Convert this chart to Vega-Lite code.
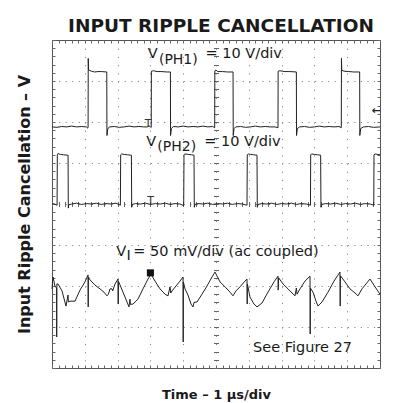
{
  "$schema": "https://vega.github.io/schema/vega-lite/v6.json",
  "width": 328,
  "height": 328,
  "autosize": {"type": "none"},
  "padding": {"left": 52, "top": 40, "right": 29, "bottom": 35},
  "background": "white",
  "title": {"text": "INPUT RIPPLE CANCELLATION", "font": "DejaVu Sans", "fontSize": 18.5, "fontWeight": "bold", "color": "#1a1a1a", "anchor": "middle", "frame": "group", "baseline": "alphabetic", "offset": -11, "dx": 5},
  "config": {
    "view": {"stroke": "#555", "strokeWidth": 1},
    "axis": {"titleFont": "DejaVu Sans", "titleFontWeight": "bold", "titleColor": "#1a1a1a"},
    "text": {"font": "DejaVu Sans", "fontSize": 14.5, "align": "left", "baseline": "alphabetic", "color": "#1a1a1a"}
  },
  "resolve": {"axis": {"x": "independent", "y": "independent"}},
  "data": {"values": [{}]},
  "datasets": {
    "ph1": [
      {"t":0,"v":5.88},{"t":0.15,"v":5.87},{"t":0.3,"v":5.89},{"t":0.45,"v":5.88},{"t":0.6,"v":5.9},{"t":0.75,"v":5.88},{"t":0.9,"v":5.89},{"t":1.05,"v":5.88},{"t":1.09,"v":5.85},{"t":1.1,"v":5.88},
      {"t":1.105,"v":7.55},{"t":1.115,"v":7.27},{"t":1.2,"v":7.24},{"t":1.3,"v":7.22},{"t":1.4,"v":7.23},{"t":1.5,"v":7.23},{"t":1.67,"v":7.22},
      {"t":1.675,"v":5.67},{"t":1.7,"v":5.83},{"t":1.75,"v":5.88},{"t":1.9,"v":5.89},{"t":2.05,"v":5.87},{"t":2.2,"v":5.88},{"t":2.35,"v":5.9},{"t":2.5,"v":5.88},{"t":2.65,"v":5.89},{"t":2.8,"v":5.88},{"t":2.92,"v":5.88},{"t":2.95,"v":5.91},{"t":3.0,"v":5.88},{"t":3.025,"v":5.87},
      {"t":3.03,"v":7.24},{"t":3.1,"v":7.25},{"t":3.2,"v":7.23},{"t":3.35,"v":7.23},{"t":3.5,"v":7.22},{"t":3.61,"v":7.22},
      {"t":3.615,"v":5.67},{"t":3.64,"v":5.84},{"t":3.7,"v":5.89},{"t":3.85,"v":5.88},{"t":4.0,"v":5.9},{"t":4.15,"v":5.88},{"t":4.3,"v":5.89},{"t":4.45,"v":5.88},{"t":4.6,"v":5.9},{"t":4.75,"v":5.88},{"t":4.9,"v":5.89},{"t":4.96,"v":5.86},
      {"t":4.965,"v":7.25},{"t":5.0,"v":7.27},{"t":5.05,"v":7.23},{"t":5.2,"v":7.23},{"t":5.35,"v":7.22},{"t":5.52,"v":7.22},
      {"t":5.525,"v":5.67},{"t":5.55,"v":5.84},{"t":5.6,"v":5.88},{"t":5.75,"v":5.89},{"t":5.9,"v":5.87},{"t":6.05,"v":5.88},{"t":6.2,"v":5.9},{"t":6.35,"v":5.88},{"t":6.5,"v":5.89},{"t":6.65,"v":5.88},{"t":6.8,"v":5.88},{"t":6.89,"v":5.86},
      {"t":6.895,"v":7.24},{"t":6.95,"v":7.25},{"t":7.1,"v":7.23},{"t":7.25,"v":7.23},{"t":7.45,"v":7.22},
      {"t":7.455,"v":5.67},{"t":7.48,"v":5.84},{"t":7.55,"v":5.88},{"t":7.7,"v":5.89},{"t":7.85,"v":5.87},{"t":8.0,"v":5.88},{"t":8.15,"v":5.9},{"t":8.3,"v":5.88},{"t":8.45,"v":5.89},{"t":8.6,"v":5.88},{"t":8.75,"v":5.89},{"t":8.82,"v":5.86},
      {"t":8.825,"v":7.55},{"t":8.835,"v":7.26},{"t":8.9,"v":7.24},{"t":9.05,"v":7.23},{"t":9.2,"v":7.22},{"t":9.38,"v":7.22},
      {"t":9.385,"v":5.67},{"t":9.41,"v":5.84},{"t":9.5,"v":5.88},{"t":9.65,"v":5.89},{"t":9.8,"v":5.87},{"t":10.0,"v":5.88}
    ],
    "ph2": [
      {"t":0,"v":4.0},{"t":0.05,"v":4.01},{"t":0.155,"v":3.97},
      {"t":0.162,"v":5.2},{"t":0.18,"v":5.23},{"t":0.25,"v":5.21},{"t":0.35,"v":5.2},{"t":0.49,"v":5.19},
      {"t":0.497,"v":3.9},{"t":0.51,"v":3.98},{"t":0.6,"v":4.0},{"t":0.75,"v":4.02},{"t":0.9,"v":3.99},{"t":1.05,"v":4.01},{"t":1.2,"v":4.0},{"t":1.35,"v":4.02},{"t":1.5,"v":3.99},{"t":1.65,"v":4.01},{"t":1.8,"v":4.0},{"t":1.95,"v":4.02},{"t":2.085,"v":3.97},
      {"t":2.094,"v":5.2},{"t":2.12,"v":5.22},{"t":2.2,"v":5.21},{"t":2.3,"v":5.2},{"t":2.42,"v":5.19},
      {"t":2.43,"v":3.92},{"t":2.45,"v":3.99},{"t":2.55,"v":4.01},{"t":2.7,"v":4.0},{"t":2.85,"v":4.02},{"t":3.0,"v":3.99},{"t":3.15,"v":4.01},{"t":3.3,"v":4.0},{"t":3.45,"v":4.02},{"t":3.6,"v":3.99},{"t":3.75,"v":4.01},{"t":3.9,"v":4.0},{"t":4.015,"v":3.96},
      {"t":4.024,"v":5.2},{"t":4.05,"v":5.22},{"t":4.15,"v":5.21},{"t":4.25,"v":5.2},{"t":4.33,"v":5.19},
      {"t":4.338,"v":3.92},{"t":4.36,"v":3.99},{"t":4.45,"v":4.01},{"t":4.6,"v":4.0},{"t":4.75,"v":4.02},{"t":4.9,"v":3.99},{"t":5.05,"v":4.01},{"t":5.2,"v":4.0},{"t":5.35,"v":4.02},{"t":5.5,"v":3.99},{"t":5.65,"v":4.01},{"t":5.8,"v":4.0},{"t":5.945,"v":3.97},
      {"t":5.954,"v":5.2},{"t":5.98,"v":5.22},{"t":6.05,"v":5.21},{"t":6.15,"v":5.2},{"t":6.25,"v":5.19},
      {"t":6.259,"v":3.92},{"t":6.28,"v":3.99},{"t":6.4,"v":4.01},{"t":6.55,"v":4.0},{"t":6.7,"v":4.02},{"t":6.85,"v":3.99},{"t":7.0,"v":4.01},{"t":7.15,"v":4.0},{"t":7.3,"v":4.02},{"t":7.45,"v":3.99},{"t":7.6,"v":4.01},{"t":7.75,"v":4.0},{"t":7.88,"v":3.97},
      {"t":7.887,"v":5.2},{"t":7.91,"v":5.22},{"t":8.0,"v":5.21},{"t":8.1,"v":5.2},{"t":8.19,"v":5.19},
      {"t":8.2,"v":3.92},{"t":8.22,"v":3.99},{"t":8.35,"v":4.01},{"t":8.5,"v":4.0},{"t":8.65,"v":4.02},{"t":8.8,"v":3.99},{"t":8.95,"v":4.01},{"t":9.1,"v":4.0},{"t":9.25,"v":4.02},{"t":9.4,"v":3.99},{"t":9.55,"v":4.01},{"t":9.7,"v":4.0},{"t":9.81,"v":3.97},
      {"t":9.817,"v":5.2},{"t":9.85,"v":5.22},{"t":10.0,"v":5.2}
    ],
    "ripple": [
      {"t":0,"v":1.93},{"t":0.03,"v":2.22},{"t":0.09,"v":2.0},{"t":0.14,"v":1.95},{"t":0.143,"v":0.756},{"t":0.149,"v":2.05},{"t":0.183,"v":2.05},{"t":0.305,"v":1.88},{"t":0.427,"v":1.51},{"t":0.488,"v":1.78},{"t":0.5,"v":1.61},{"t":0.549,"v":1.63},{"t":0.701,"v":1.63},{"t":0.854,"v":1.9},{"t":1.006,"v":2.1},{"t":1.098,"v":2.27},{"t":1.104,"v":1.49},{"t":1.11,"v":2.22},{"t":1.159,"v":2.15},{"t":1.311,"v":2.02},{"t":1.463,"v":1.93},{"t":1.585,"v":1.85},{"t":1.677,"v":1.76},{"t":1.72,"v":1.8},{"t":1.768,"v":1.93},{"t":1.829,"v":1.93},{"t":1.85,"v":1.88},{"t":1.921,"v":2.05},{"t":2.012,"v":2.17},{"t":2.018,"v":1.56},{"t":2.025,"v":2.12},{"t":2.226,"v":1.73},{"t":2.348,"v":1.49},{"t":2.378,"v":1.68},{"t":2.39,"v":1.55},{"t":2.47,"v":1.56},{"t":2.622,"v":1.68},{"t":2.774,"v":1.93},{"t":2.927,"v":2.17},{"t":3.018,"v":2.29},{"t":3.14,"v":2.12},{"t":3.293,"v":1.93},{"t":3.445,"v":1.8},{"t":3.537,"v":1.76},{"t":3.598,"v":1.98},{"t":3.62,"v":1.83},{"t":3.659,"v":1.88},{"t":3.78,"v":2.0},{"t":3.902,"v":2.12},{"t":3.994,"v":2.22},{"t":4.0,"v":0.634},{"t":4.006,"v":2.1},{"t":4.055,"v":1.93},{"t":4.146,"v":1.78},{"t":4.238,"v":1.56},{"t":4.299,"v":1.49},{"t":4.33,"v":1.6},{"t":4.421,"v":1.61},{"t":4.573,"v":1.8},{"t":4.726,"v":2.0},{"t":4.878,"v":2.22},{"t":4.97,"v":2.34},{"t":5.122,"v":2.1},{"t":5.274,"v":1.98},{"t":5.427,"v":1.85},{"t":5.518,"v":1.76},{"t":5.61,"v":1.88},{"t":5.732,"v":1.98},{"t":5.884,"v":2.12},{"t":5.945,"v":2.17},{"t":5.951,"v":1.56},{"t":5.957,"v":2.05},{"t":6.037,"v":1.73},{"t":6.159,"v":1.56},{"t":6.25,"v":1.49},{"t":6.402,"v":1.585},{"t":6.585,"v":1.85},{"t":6.768,"v":2.1},{"t":6.89,"v":2.24},{"t":6.896,"v":1.9},{"t":6.91,"v":2.2},{"t":7.043,"v":2.05},{"t":7.195,"v":1.93},{"t":7.317,"v":1.83},{"t":7.409,"v":1.76},{"t":7.45,"v":1.95},{"t":7.47,"v":1.8},{"t":7.561,"v":1.93},{"t":7.713,"v":2.12},{"t":7.866,"v":2.24},{"t":7.872,"v":0.83},{"t":7.878,"v":1.95},{"t":7.957,"v":1.85},{"t":8.049,"v":1.63},{"t":8.11,"v":1.51},{"t":8.232,"v":1.61},{"t":8.415,"v":1.85},{"t":8.598,"v":2.12},{"t":8.78,"v":2.34},{"t":8.787,"v":1.51},{"t":8.793,"v":2.25},{"t":8.933,"v":2.1},{"t":9.085,"v":1.93},{"t":9.238,"v":1.83},{"t":9.329,"v":1.76},{"t":9.451,"v":1.93},{"t":9.573,"v":2.05},{"t":9.695,"v":2.17},{"t":9.848,"v":1.98},{"t":10.0,"v":1.8}
    ]
  },
  "layer": [
    {
      "data": {"name": "ph1"},
      "mark": {"type": "line", "color": "#222", "strokeWidth": 1},
      "encoding": {
        "x": {"field": "t", "type": "quantitative", "scale": {"domain": [0, 10], "nice": false, "zero": false},
              "axis": {"orient": "bottom", "values": [1,2,3,4,5,6,7,8,9], "grid": true, "gridColor": "#8a8a8a", "gridDash": [1.2, 7.0], "gridWidth": 1, "ticks": false, "labels": false, "domain": false, "title": "Time – 1 µs/div", "titleFontSize": 13, "titlePadding": 20}},
        "y": {"field": "v", "type": "quantitative", "scale": {"domain": [0, 8], "nice": false, "zero": false},
              "axis": {"orient": "left", "values": [1,2,3,4,5,6,7], "grid": true, "gridColor": "#8a8a8a", "gridDash": [1.2, 5.36], "gridWidth": 1, "ticks": false, "labels": false, "domain": false, "title": "Input Ripple Cancellation – V", "titleFontSize": 16, "titlePadding": 20}}
      }
    },
    {
      "data": {"name": "ph2"},
      "mark": {"type": "line", "color": "#222", "strokeWidth": 1},
      "encoding": {
        "x": {"field": "t", "type": "quantitative", "scale": {"domain": [0, 10], "nice": false, "zero": false},
              "axis": {"orient": "bottom", "tickCount": 50, "tickSize": -3, "tickColor": "#666", "labels": false, "domain": false, "grid": false, "title": null}},
        "y": {"field": "v", "type": "quantitative", "scale": {"domain": [0, 8], "nice": false, "zero": false},
              "axis": {"orient": "left", "tickCount": 40, "tickSize": -3, "tickColor": "#666", "labels": false, "domain": false, "grid": false, "title": null}}
      }
    },
    {
      "data": {"name": "ripple"},
      "mark": {"type": "line", "color": "#222", "strokeWidth": 1},
      "encoding": {
        "x": {"field": "t", "type": "quantitative", "scale": {"domain": [0, 10], "nice": false, "zero": false},
              "axis": {"orient": "top", "tickCount": 50, "tickSize": -3, "tickColor": "#666", "labels": false, "domain": false, "grid": false, "title": null}},
        "y": {"field": "v", "type": "quantitative", "scale": {"domain": [0, 8], "nice": false, "zero": false},
              "axis": {"orient": "right", "tickCount": 40, "tickSize": -3, "tickColor": "#666", "labels": false, "domain": false, "grid": false, "title": null}}
      }
    },
    {
      "mark": {"type": "text"},
      "encoding": {
        "x": {"datum": 6.13, "type": "quantitative", "axis": {"orient": "bottom", "offset": -166.5, "tickCount": 50, "tickSize": 5, "tickColor": "#666", "labels": false, "domain": false, "grid": false, "title": null}},
        "y": {"datum": 0.39, "type": "quantitative", "axis": {"orient": "left", "offset": -166.5, "tickCount": 40, "tickSize": 5, "tickColor": "#666", "labels": false, "domain": false, "grid": false, "title": null}},
        "text": {"value": "See Figure 27"}
      }
    },
    {"mark": {"type": "text"}, "encoding": {"x": {"datum": 2.92, "type": "quantitative", "axis": null}, "y": {"datum": 7.56, "type": "quantitative", "axis": null}, "text": {"value": "V"}}},
    {"mark": {"type": "text", "fontSize": 14}, "encoding": {"x": {"datum": 3.26, "type": "quantitative", "axis": null}, "y": {"datum": 7.41, "type": "quantitative", "axis": null}, "text": {"value": "(PH1)"}}},
    {"mark": {"type": "text"}, "encoding": {"x": {"datum": 4.68, "type": "quantitative", "axis": null}, "y": {"datum": 7.55, "type": "quantitative", "axis": null}, "text": {"value": "= 10 V/div"}}},
    {"mark": {"type": "text"}, "encoding": {"x": {"datum": 2.87, "type": "quantitative", "axis": null}, "y": {"datum": 5.42, "type": "quantitative", "axis": null}, "text": {"value": "V"}}},
    {"mark": {"type": "text", "fontSize": 14}, "encoding": {"x": {"datum": 3.21, "type": "quantitative", "axis": null}, "y": {"datum": 5.29, "type": "quantitative", "axis": null}, "text": {"value": "(PH2)"}}},
    {"mark": {"type": "text"}, "encoding": {"x": {"datum": 4.64, "type": "quantitative", "axis": null}, "y": {"datum": 5.42, "type": "quantitative", "axis": null}, "text": {"value": "= 10 V/div"}}},
    {"mark": {"type": "text"}, "encoding": {"x": {"datum": 1.96, "type": "quantitative", "axis": null}, "y": {"datum": 2.73, "type": "quantitative", "axis": null}, "text": {"value": "V"}}},
    {"mark": {"type": "text"}, "encoding": {"x": {"datum": 2.27, "type": "quantitative", "axis": null}, "y": {"datum": 2.63, "type": "quantitative", "axis": null}, "text": {"value": "I"}}},
    {"mark": {"type": "text"}, "encoding": {"x": {"datum": 2.48, "type": "quantitative", "axis": null}, "y": {"datum": 2.73, "type": "quantitative", "axis": null}, "text": {"value": "= 50 mV/div (ac coupled)"}}},
    {"mark": {"type": "text", "fontSize": 11, "align": "center", "color": "#333", "fill": "#333"}, "encoding": {"x": {"datum": 2.93, "type": "quantitative", "axis": null}, "y": {"datum": 5.88, "type": "quantitative", "axis": null}, "text": {"value": "T"}}},
    {"mark": {"type": "text", "fontSize": 11, "align": "center", "color": "#333", "fill": "#333"}, "encoding": {"x": {"datum": 3.01, "type": "quantitative", "axis": null}, "y": {"datum": 4.0, "type": "quantitative", "axis": null}, "text": {"value": "T"}}},
    {"mark": {"type": "text", "fontSize": 11, "align": "center", "baseline": "middle", "fontWeight": "bold", "color": "#222"}, "encoding": {"x": {"datum": 9.88, "type": "quantitative", "axis": null}, "y": {"datum": 6.27, "type": "quantitative", "axis": null}, "text": {"value": "←"}}},
    {"mark": {"type": "point", "shape": "square", "filled": true, "size": 50, "color": "#111", "opacity": 1}, "encoding": {"x": {"datum": 3.0, "type": "quantitative", "axis": null}, "y": {"datum": 2.32, "type": "quantitative", "axis": null}}}
  ]
}
